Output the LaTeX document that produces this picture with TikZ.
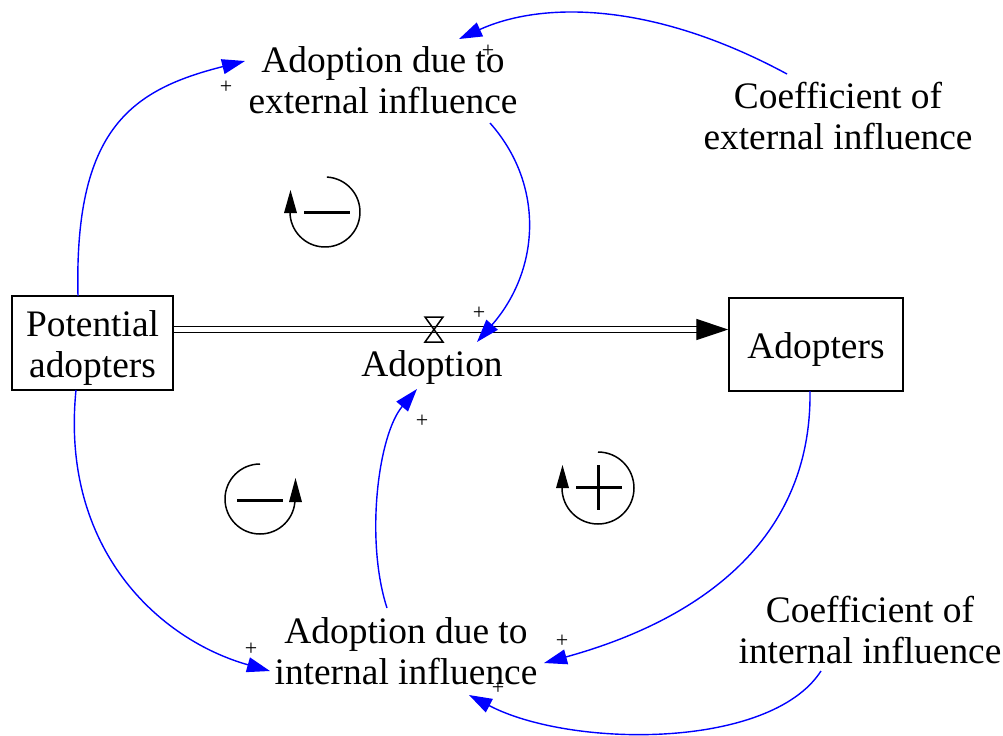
\documentclass[tikz,border=0pt]{standalone}
\usepackage{fontspec}
\setmainfont{Liberation Serif}
\usetikzlibrary{arrows.meta}
\begin{document}
\begin{tikzpicture}[x=0.5pt,y=-0.5pt,
  lbl/.style={align=center,font=\fontsize{18.7}{20.6}\selectfont,inner sep=0pt},
  stock/.style={draw,line width=0.75pt,inner sep=0pt},
  link/.style={blue,line width=0.7pt,-{Triangle[length=11.5pt,width=7.5pt]}},
  pol/.style={font=\fontsize{11}{12}\selectfont,inner sep=0pt},
  pipe/.style={line width=0.7pt,double distance=2.4pt,-{Triangle[length=16pt,width=10.5pt]}},
  loopc/.style={line width=0.75pt},
  sgn/.style={line width=1.5pt},
]
\useasboundingbox (0,0) rectangle (1003,735);

% stocks
\node[stock,minimum width=80.5pt,minimum height=47pt] (pa) at (92.5,343) {};
\node[lbl] (patext) at ([yshift=-2.5pt]pa.center) {Potential\\adopters};
\node[stock,minimum width=87pt,minimum height=46.5pt] (ad) at (816,344.5) {};
\node[lbl] (adtext) at ([yshift=-2.5pt]ad.center) {Adopters};

% flow
\coordinate (valve) at (434,329.5);
\draw[pipe] (pa.east|-valve) -- (ad.west|-valve);
\draw[line width=0.75pt] ([shift={(-9,-12.5)}]valve) -- ([shift={(9,-12.5)}]valve)
  -- ([shift={(-9,12.5)}]valve) -- ([shift={(9,12.5)}]valve) -- cycle;
\node[lbl] (adoption) at (432,367) {Adoption};

% auxiliaries
\node[lbl] (aext) at (383,80) {Adoption due to\\external influence};
\node[lbl] (cext) at (838,116) {Coefficient of\\external influence};
\node[lbl] (aint) at (406,651) {Adoption due to\\internal influence};
\node[lbl] (cint) at (870,630) {Coefficient of\\internal influence};

% links
\draw[link] ([shift={(-14.5,-47)}]pa.center) .. controls (74,130) and (130,90) .. ([shift={(-138,-19)}]aext.center);
\draw[link] ([shift={(107,43)}]aext.center) .. controls (545,185) and (540,270) .. ([shift={(45,-25)}]adoption.center);
\draw[link] ([shift={(-51,-42)}]cext.center) .. controls (650,0) and (540,2) .. ([shift={(76,-41)}]aext.center);
\draw[link] ([shift={(-16.5,47)}]pa.center) .. controls (60,550) and (160,640) .. ([shift={(-136,20)}]aint.center);
\draw[link] ([shift={(-6,46.5)}]ad.center) .. controls (812,540) and (700,620) .. ([shift={(138,12)}]aint.center);
\draw[link] ([shift={(-49,41)}]cint.center) .. controls (770,750) and (570,748) .. ([shift={(63,44)}]aint.center);
\draw[link] ([shift={(-19,-43)}]aint.center) .. controls (365,540) and (378,435) .. ([shift={(-15,22)}]adoption.center);

% polarities
\node[pol] (p1) at (226,87) {+};
\node[pol] (p2) at (479,313) {+};
\node[pol] (p3) at (488,51) {+};
\node[pol] (p4) at (251,649) {+};
\node[pol] (p5) at (562,641) {+};
\node[pol] (p6) at (498,688) {+};
\node[pol] (p7) at (422,421) {+};

% loop symbols
\draw[loopc] (325,212) ++(-87:35) arc[start angle=-87,end angle=180,radius=35];
\fill (284,213) -- (297,213) -- (290.5,190) -- cycle;
\draw[sgn] (304,212) -- (350,212);

\draw[loopc] (260,499) ++(-90:35) arc[start angle=-90,end angle=-360,radius=35];
\fill (289,502) -- (302,502) -- (295.5,478) -- cycle;
\draw[sgn] (237,500) -- (283,500);

\draw[loopc] (598,488) ++(-90:36) arc[start angle=-90,end angle=180,radius=36];
\fill (556,488) -- (569,488) -- (562.5,465) -- cycle;
\draw[sgn] (576,487) -- (622,487);
\draw[sgn] (598,465) -- (598,510);
\end{tikzpicture}
\end{document}
